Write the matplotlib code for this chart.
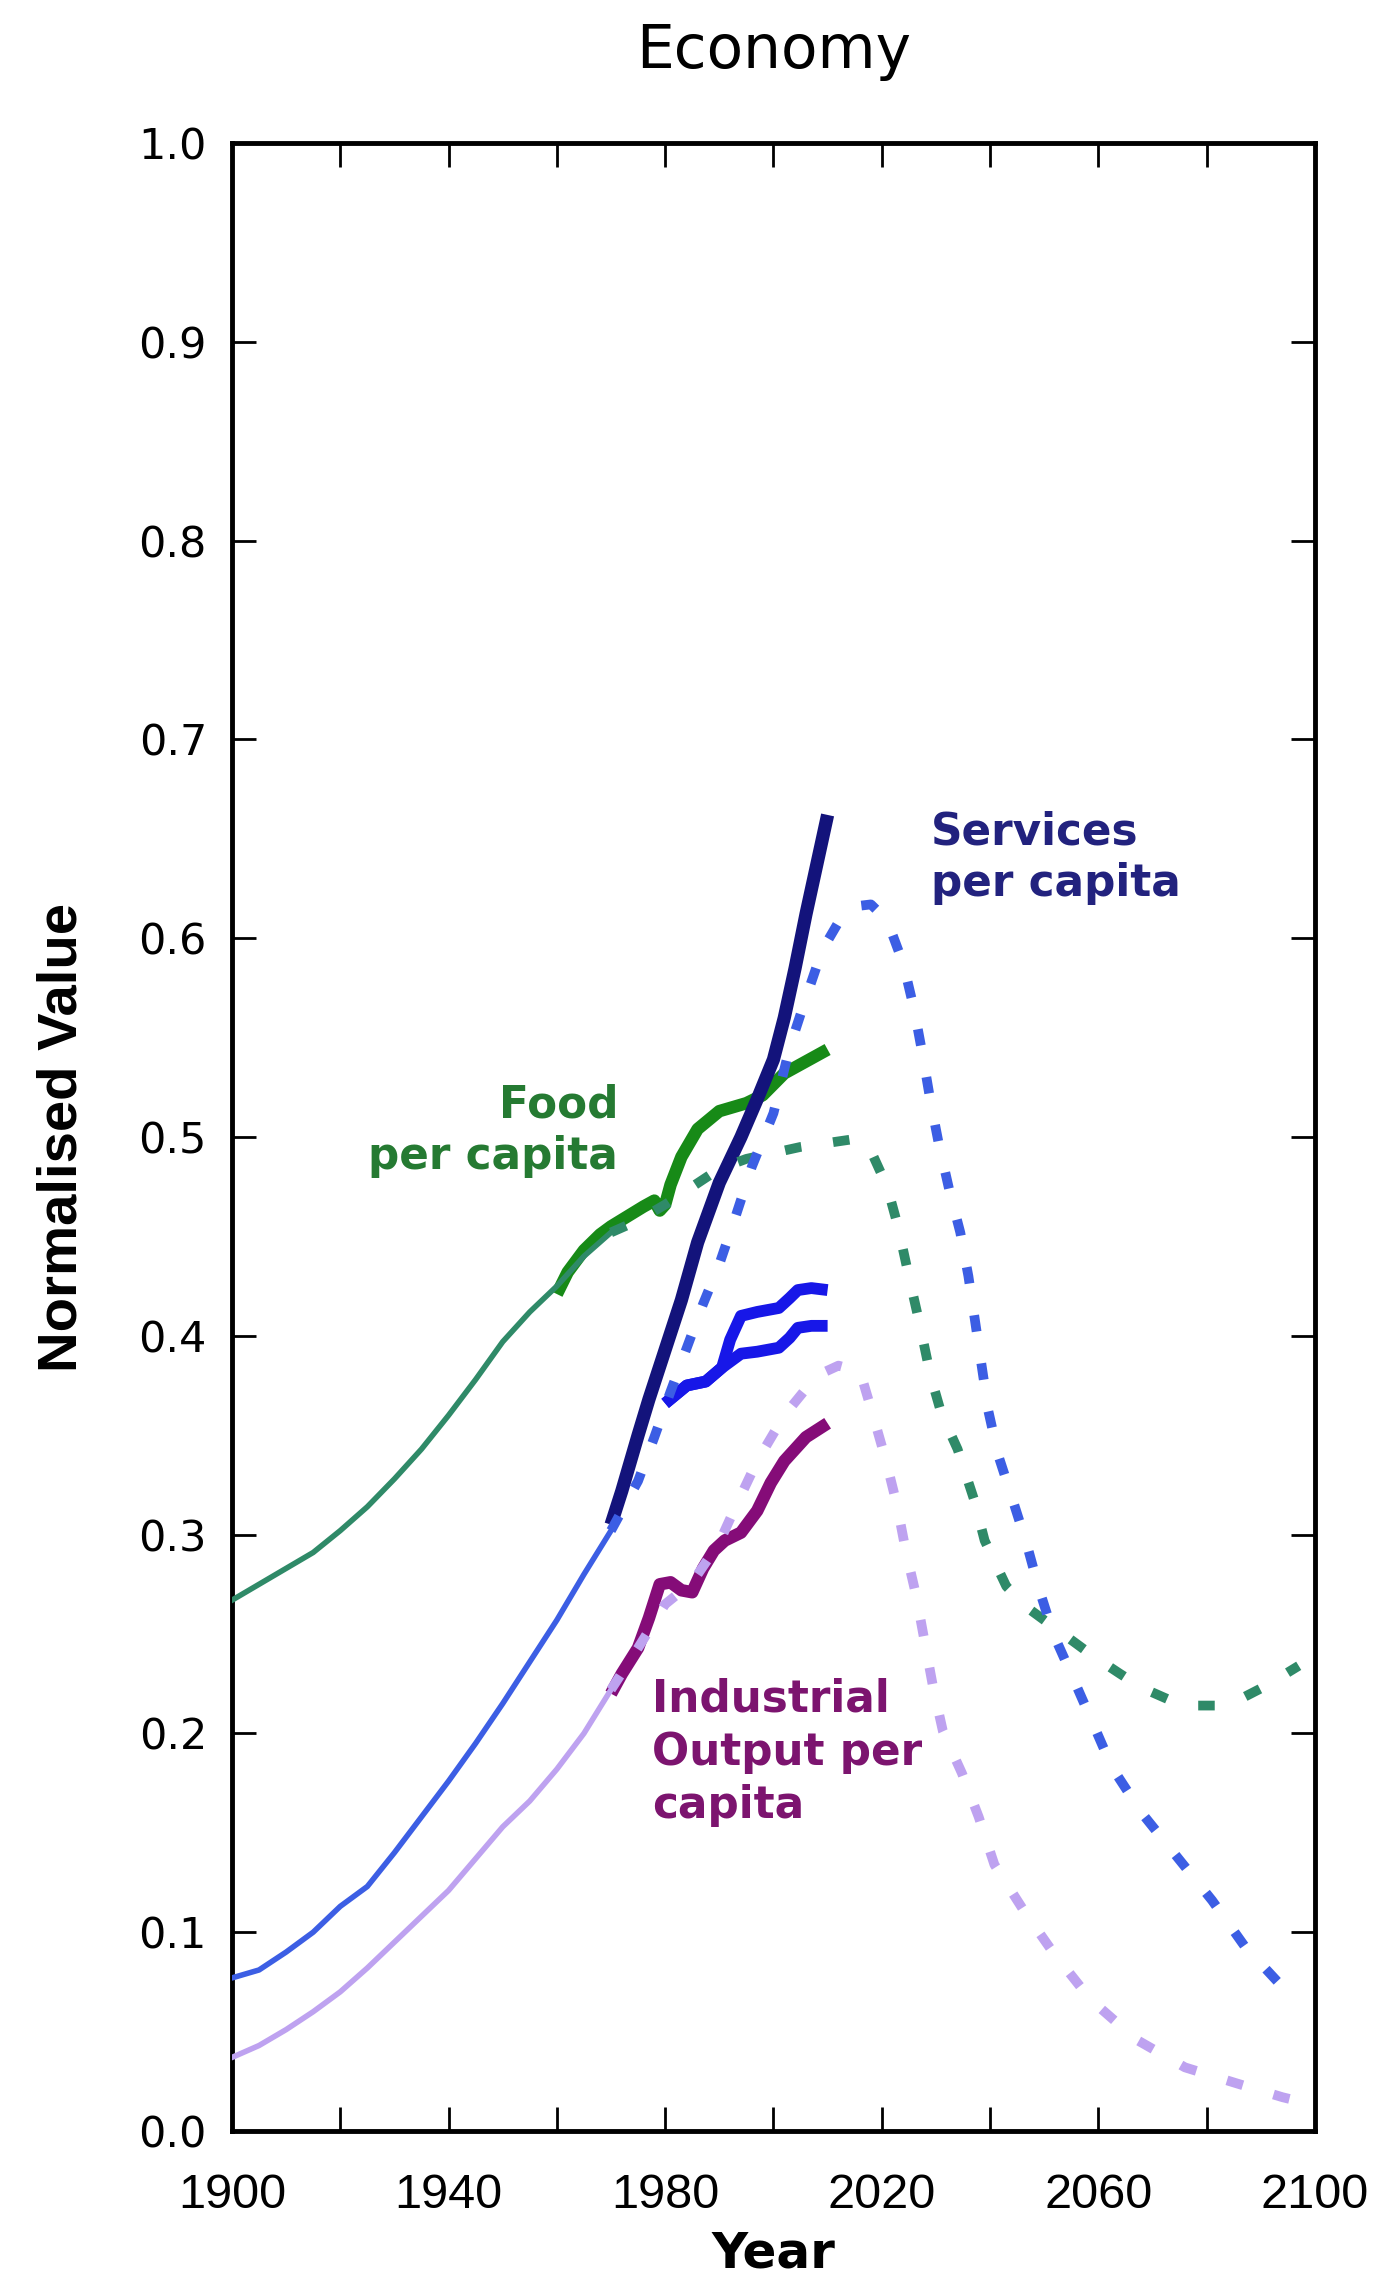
import numpy as np
import matplotlib.pyplot as plt

# ---- model run: thin solid up to 1970, dotted projection after ----
food_model_years = [1900, 1905, 1910, 1915, 1920, 1925, 1930, 1935, 1940, 1945,
                    1950, 1955, 1960, 1965, 1970, 1975, 1980, 1985, 1990, 1995,
                    2000, 2005, 2010, 2015, 2018, 2021, 2023, 2025, 2027, 2029,
                    2031, 2034, 2037, 2039, 2043, 2047, 2051, 2055, 2059, 2064,
                    2068, 2073, 2077, 2082, 2086, 2091, 2097]
food_model = [0.267, 0.275, 0.283, 0.291, 0.302, 0.314, 0.328, 0.343, 0.360, 0.378,
              0.397, 0.412, 0.425, 0.440, 0.452, 0.458, 0.466, 0.475, 0.484, 0.489,
              0.492, 0.495, 0.497, 0.499, 0.493, 0.475, 0.455, 0.430, 0.406, 0.380,
              0.361, 0.343, 0.318, 0.297, 0.274, 0.263, 0.255, 0.247, 0.239, 0.230,
              0.223, 0.217, 0.214, 0.214, 0.217, 0.224, 0.234]

services_model_years = [1900, 1905, 1910, 1915, 1920, 1925, 1930, 1935, 1940, 1945,
                        1950, 1955, 1960, 1965, 1970, 1975, 1978, 1981, 1984, 1987,
                        1990, 1993, 1996, 2000, 2003, 2006, 2009, 2012, 2015, 2018,
                        2021, 2024, 2026, 2027.5, 2029, 2030.5, 2032.5, 2034.5, 2036, 2037.2,
                        2038.5, 2039.7, 2041.5, 2044, 2046.8, 2049, 2051.7, 2055.3, 2059, 2062.5,
                        2068, 2074.5, 2081, 2087, 2094.5, 2097]
services_model = [0.077, 0.081, 0.090, 0.100, 0.113, 0.123, 0.140, 0.158, 0.176, 0.195,
                  0.215, 0.236, 0.257, 0.280, 0.302, 0.327, 0.349, 0.372, 0.394, 0.416,
                  0.436, 0.460, 0.485, 0.512, 0.545, 0.570, 0.594, 0.608, 0.616, 0.617,
                  0.609, 0.587, 0.564, 0.542, 0.518, 0.497, 0.473, 0.452, 0.430, 0.408,
                  0.384, 0.362, 0.340, 0.319, 0.295, 0.273, 0.250, 0.228, 0.205, 0.183,
                  0.160, 0.138, 0.116, 0.093, 0.071, 0.065]

industry_model_years = [1900, 1905, 1910, 1915, 1920, 1925, 1930, 1935, 1940, 1945,
                        1950, 1955, 1960, 1965, 1970, 1975, 1980, 1985, 1990, 1993,
                        1997, 2002, 2008, 2012, 2016, 2018.5, 2020.8, 2022.8, 2024.5, 2026.3,
                        2028, 2029.5, 2031.3, 2034.8, 2037.9, 2040.8, 2046.2, 2051.6, 2058.6, 2067,
                        2076, 2085.5, 2094, 2097]
industry_model = [0.037, 0.043, 0.051, 0.060, 0.070, 0.082, 0.095, 0.108, 0.121, 0.137,
                  0.153, 0.166, 0.182, 0.200, 0.222, 0.243, 0.265, 0.276, 0.296, 0.314,
                  0.337, 0.360, 0.380, 0.385, 0.382, 0.359, 0.337, 0.315, 0.291, 0.270,
                  0.245, 0.223, 0.201, 0.180, 0.158, 0.134, 0.111, 0.090, 0.066, 0.046,
                  0.032, 0.024, 0.017, 0.015]

# ---- observed data (thick lines) ----
food_obs_years = [1960, 1962, 1965, 1968, 1970, 1973, 1976, 1978, 1979, 1980,
                  1981, 1983, 1986, 1990, 1995, 1998, 2002, 2006, 2010]
food_obs = [0.421, 0.432, 0.443, 0.451, 0.455, 0.460, 0.465, 0.468, 0.463, 0.466,
            0.476, 0.490, 0.504, 0.513, 0.517, 0.521, 0.532, 0.538, 0.544]

services_obs_years = [1970, 1972, 1975, 1977, 1980, 1983, 1986, 1990, 1994, 1997,
                      2000, 2002, 2004, 2006, 2008, 2010]
services_obs = [0.305, 0.322, 0.350, 0.368, 0.393, 0.418, 0.447, 0.477, 0.500, 0.519,
                0.539, 0.560, 0.585, 0.612, 0.637, 0.662]

# two variants of the services indicator
services2_obs_years = [1980, 1984, 1987.5, 1990.5, 1992, 1994, 1997, 2001, 2003, 2004.5, 2007, 2010]
services2a_obs = [0.366, 0.375, 0.377, 0.384, 0.398, 0.410, 0.412, 0.414, 0.419, 0.423, 0.424, 0.423]
services2b_obs = [0.366, 0.375, 0.377, 0.384, 0.387, 0.391, 0.392, 0.394, 0.399, 0.404, 0.405, 0.405]

industry_obs_years = [1970, 1972, 1975, 1977, 1979, 1981, 1983, 1985, 1987, 1989,
                      1991, 1994, 1997, 1999.5, 2002, 2006, 2010]
industry_obs = [0.220, 0.230, 0.243, 0.258, 0.275, 0.276, 0.272, 0.271, 0.283, 0.292,
                0.297, 0.301, 0.312, 0.326, 0.337, 0.349, 0.356]

xtick_years = [1900, 1920, 1940, 1960, 1980, 2000, 2020, 2040, 2060, 2080, 2100]
xtick_labels = ['1900', '', '1940', '', '1980', '', '2020', '', '2060', '', '2100']
ytick_values = [0.0, 0.1, 0.2, 0.3, 0.4, 0.5, 0.6, 0.7, 0.8, 0.9, 1.0]

SPLIT_YEAR = 1970

TEAL = '#2f8a68'
GREEN = '#178a17'
NAVY = '#13137b'
BLUE_OBS = '#1717e8'
BLUE_MODEL = '#3c5ee4'
LAVENDER = '#bea2f0'
PURPLE = '#850c78'


def split_model(years, values, split=SPLIT_YEAR):
    """Return (past, future) parts of a model run, sharing the split point."""
    years = np.asarray(years, dtype=float)
    values = np.asarray(values, dtype=float)
    past = years <= split
    future = years >= split
    return (years[past], values[past]), (years[future], values[future])


fig = plt.figure(figsize=(13.84, 22.82), dpi=100)
ax = fig.add_axes([0.1676, 0.06617, 0.78251, 0.87117])

# observed series first, model lines sit on top
ax.plot(food_obs_years, food_obs, color=GREEN, lw=9, solid_capstyle='butt', zorder=3)
ax.plot(services2_obs_years, services2a_obs, color=BLUE_OBS, lw=8.5, solid_capstyle='butt', zorder=3)
ax.plot(services2_obs_years, services2b_obs, color=BLUE_OBS, lw=8.5, solid_capstyle='butt', zorder=3)
ax.plot(services_obs_years, services_obs, color=NAVY, lw=9.5, solid_capstyle='butt', zorder=3)
ax.plot(industry_obs_years, industry_obs, color=PURPLE, lw=9, solid_capstyle='butt', zorder=3)

dots = (0, (1.7, 3.3))
for years, values, col in [(food_model_years, food_model, TEAL),
                           (services_model_years, services_model, BLUE_MODEL),
                           (industry_model_years, industry_model, LAVENDER)]:
    (py, pv), (fy, fv) = split_model(years, values)
    ax.plot(py, pv, color=col, lw=4.0, zorder=4)
    ax.plot(fy, fv, color=col, lw=7, linestyle=dots, zorder=4)

ax.set_xlim(1900, 2100)
ax.set_ylim(0, 1.0)
ax.set_xticks(xtick_years)
ax.set_xticklabels(xtick_labels)
ax.set_yticks(ytick_values)
ax.set_yticklabels([f'{v:.1f}' for v in ytick_values])

ax.tick_params(direction='in', length=17, width=2, top=True, right=True)
ax.tick_params(axis='x', pad=30)
ax.tick_params(axis='y', pad=18)
for lbl in ax.get_xticklabels():
    lbl.set_fontfamily('Liberation Sans')
    lbl.set_fontsize(35)
for lbl in ax.get_yticklabels():
    lbl.set_fontfamily('DejaVu Sans')
    lbl.set_fontsize(31)

for sp in ax.spines.values():
    sp.set_linewidth(3.5)

# series labels
ax.text(1971.3, 0.527, 'Food\nper capita', color='#257a32', fontsize=31.5,
        fontweight='bold', family='DejaVu Sans', ha='right', va='top',
        multialignment='right', linespacing=1.25)
ax.text(2029.1, 0.664, 'Services\nper capita', color='#22227e', fontsize=31.5,
        fontweight='bold', family='DejaVu Sans', ha='left', va='top',
        linespacing=1.25)
ax.text(1977.6, 0.228, 'Industrial\nOutput per\ncapita', color='#7c146f', fontsize=31.5,
        fontweight='bold', family='DejaVu Sans', ha='left', va='top',
        linespacing=1.3)

# titles and axis labels
fig.text(773.5 / 1384, 1 - 68 / 2282, 'Economy', family='DejaVu Sans', fontsize=43,
         ha='center', va='baseline')
fig.text(62.5 / 1384, 1 - 1137 / 2282, 'Normalised Value', family='Liberation Sans',
         fontsize=40.5, fontweight='bold', rotation=90, ha='center', va='center')
fig.text(773.5 / 1384, 1 - 2267 / 2282, 'Year', family='DejaVu Sans', fontsize=36,
         fontweight='bold', ha='center', va='baseline')

fig.savefig('out.png', dpi=100, facecolor='white')
